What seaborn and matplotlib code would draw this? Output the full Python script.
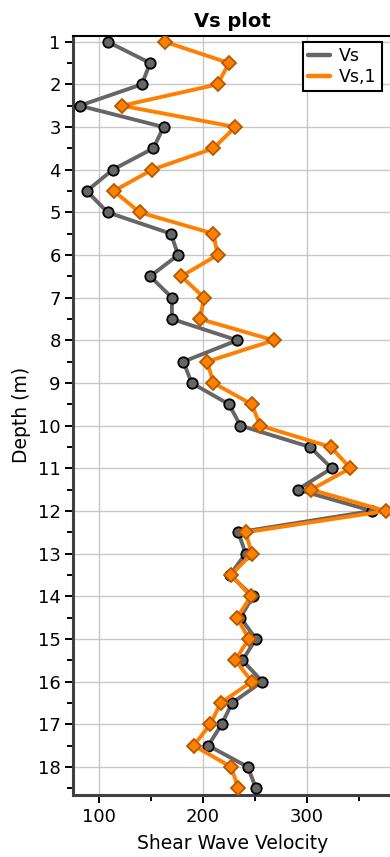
import numpy as np
import pandas as pd
import matplotlib
matplotlib.use("Agg")
import matplotlib.pyplot as plt
from matplotlib.lines import Line2D
from matplotlib.ticker import MultipleLocator
import seaborn as sns

# Depth profile (m) and shear wave velocities
depth = [1.0, 1.5, 2.0, 2.5, 3.0, 3.5, 4.0, 4.5, 5.0, 5.5, 6.0, 6.5,
         7.0, 7.5, 8.0, 8.5, 9.0, 9.5, 10.0, 10.5, 11.0, 11.5, 12.0, 12.5,
         13.0, 13.5, 14.0, 14.5, 15.0, 15.5, 16.0, 16.5, 17.0, 17.5, 18.0, 18.5]
vs = [108, 149, 141, 81, 162, 152, 113, 88, 108, 169, 176, 149,
      170, 170, 233, 181, 189, 225, 236, 303, 324, 291, 363, 234,
      241, 226, 248, 236, 251, 238, 257, 228, 218, 205, 243, 251]
vs1 = [163, 225, 214, 122, 231, 210, 151, 114, 139, 210, 214, 179,
       201, 197, 268, 204, 210, 247, 255, 323, 342, 304, 376, 241,
       247, 227, 246, 233, 244, 231, 247, 217, 207, 191, 227, 234]
series_names = ["Vs", "Vs,1"]

df = pd.DataFrame({"Depth": depth, "Vs": vs, "Vs,1": vs1})

sns.set_style("white")
plt.rcParams["font.family"] = ["DejaVu Sans"]
plt.rcParams["text.color"] = "black"
plt.rcParams["axes.labelcolor"] = "black"
plt.rcParams["xtick.color"] = "black"
plt.rcParams["ytick.color"] = "black"

fig = plt.figure(figsize=(3.9, 8.57), dpi=100)
ax = fig.add_axes([0.188, 0.0723, 0.817, 0.886])

gray = "#666666"
orange = "#ff7f00"

sns.lineplot(data=df, x="Vs", y="Depth", sort=False, estimator=None,
             color=gray, linewidth=2.8, marker="o", markersize=7.5,
             markerfacecolor=gray, markeredgecolor="black",
             markeredgewidth=1.3, ax=ax, zorder=3)
sns.lineplot(data=df, x="Vs,1", y="Depth", sort=False, estimator=None,
             color=orange, linewidth=2.8, marker="D", markersize=7,
             markerfacecolor=orange, markeredgecolor="#b35a00",
             markeredgewidth=1.3, ax=ax, zorder=4)

ax.set_xlim(75, 382)
ax.set_ylim(18.66, 0.86)

ax.xaxis.set_major_locator(MultipleLocator(100))
ax.xaxis.set_minor_locator(MultipleLocator(50))
ax.yaxis.set_major_locator(MultipleLocator(1))
ax.yaxis.set_minor_locator(MultipleLocator(0.5))

ax.grid(True, which="major", color="#c8c8c8", linewidth=1.0)
ax.set_axisbelow(True)

ax.tick_params(axis="both", which="major", direction="out", length=6,
               width=1.4, color="black", labelcolor="black", labelsize=13,
               pad=3, bottom=True, left=True)
ax.tick_params(axis="both", which="minor", direction="out", length=4,
               width=1.4, color="black", bottom=True, left=True)

for side in ("left", "bottom"):
    ax.spines[side].set_color("#404040")
    ax.spines[side].set_linewidth(2.2)
ax.spines["top"].set_color("black")
ax.spines["top"].set_linewidth(1.5)
ax.spines["right"].set_visible(False)

ax.set_title("Vs plot", fontsize=14, fontweight="bold", pad=6, color="black")
ax.set_xlabel("Shear Wave Velocity", fontsize=13.5, labelpad=6, color="black")
ax.set_ylabel("Depth (m)", fontsize=13.5, labelpad=5, color="black")

handles = [Line2D([0], [0], color=gray, linewidth=3.2),
           Line2D([0], [0], color=orange, linewidth=3.2)]
leg = ax.legend(handles, series_names, loc="upper right",
                bbox_to_anchor=(0.968, 0.992), borderaxespad=0,
                fontsize=12.5, handlelength=1.3, handletextpad=0.5,
                borderpad=0.3, labelspacing=0.15, fancybox=False,
                framealpha=1, edgecolor="black")
leg.get_frame().set_linewidth(1.5)
for txt in leg.get_texts():
    txt.set_color("black")

fig.savefig("out.png", dpi=100)
